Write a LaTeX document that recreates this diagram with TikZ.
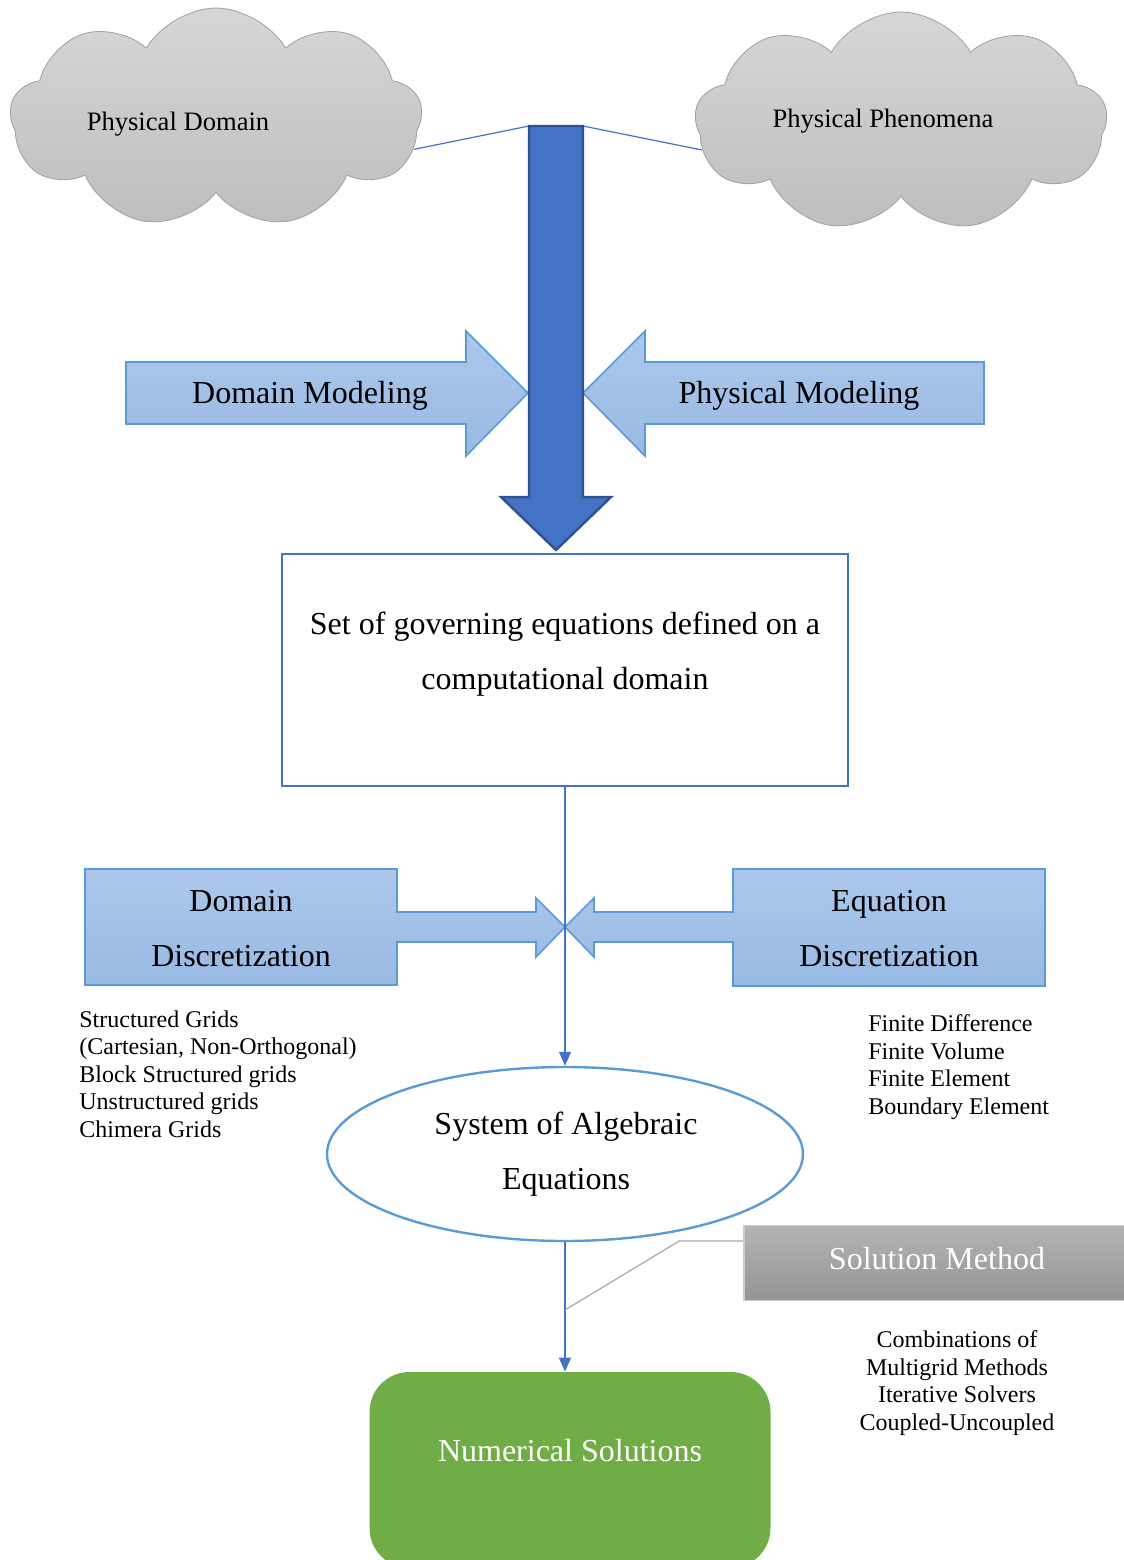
\documentclass[tikz,border=0pt]{standalone}
\usepackage{fontspec}
\setmainfont{Liberation Serif}
\usetikzlibrary{shapes.symbols,shapes.geometric,arrows.meta}

\definecolor{blueT}{RGB}{172,199,234}
\definecolor{blueB}{RGB}{153,186,228}
\definecolor{blueedge}{RGB}{91,155,213}
\definecolor{darkblue}{RGB}{68,114,196}
\definecolor{navyedge}{RGB}{47,82,143}
\definecolor{cloudT}{RGB}{214,214,214}
\definecolor{cloudB}{RGB}{190,190,190}
\definecolor{cloudedge}{RGB}{160,160,160}
\definecolor{grayT}{RGB}{180,180,180}
\definecolor{grayB}{RGB}{148,148,148}
\definecolor{leafgreen}{RGB}{112,173,71}

\begin{document}
\begin{tikzpicture}[x=0.5pt,y=-0.5pt]

\tikzstyle{cloudy}=[cloud, cloud puffs=9, cloud puff arc=120, aspect=1.9, draw=cloudedge, top color=cloudT, bottom color=cloudB, minimum width=206pt, minimum height=110pt, inner sep=0pt]
\tikzstyle{blockarrow}=[draw=blueedge, line width=0.8pt, top color=blueT, bottom color=blueB]
\tikzstyle{bigtext}=[inner sep=0pt, align=center, font=\fontsize{16pt}{27.5pt}\selectfont]
\tikzstyle{smalltext}=[inner sep=0pt, font=\fontsize{12pt}{13.75pt}\selectfont]
\tikzstyle{arrow}=[draw=darkblue, line width=0.6pt, -{Triangle[width=6pt,length=7pt]}]
\tikzstyle{thinline}=[draw=darkblue, line width=0.6pt]

\useasboundingbox (0,0) rectangle (1124,1560);
\clip (0,0) rectangle (1124,1560);

% clouds
\node (PD) [cloudy] at (216,118) {};
\node (PP) [cloudy] at (901,122) {};
\node (PDt) [inner sep=0pt, font=\fontsize{13.3pt}{16pt}\selectfont] at (178,124) {Physical Domain};
\node (PPt) [inner sep=0pt, font=\fontsize{13.3pt}{16pt}\selectfont] at (883,121) {Physical Phenomena};

\coordinate (TL) at (529,126);
\coordinate (TR) at (583,126);
\draw [thinline] (PD.-9) -- (TL);
\draw [thinline] (TR) -- (PP.188);

% modeling arrows
\draw [blockarrow] (126,362) -- (466,362) -- (466,331) -- (528,393) -- (466,456) -- (466,424) -- (126,424) -- cycle;
\draw [blockarrow] (984,362) -- (645,362) -- (645,331) -- (583,393) -- (645,456) -- (645,424) -- (984,424) -- cycle;
\node (DM) [bigtext] at (310,396) {Domain Modeling};
\node (PM) [bigtext] at (799,396) {Physical Modeling};

% big arrow
\draw [fill=darkblue, draw=navyedge, line width=1.2pt] (TL) -- (TR) -- (583,497) -- (611,497) -- (556,550) -- (501,497) -- (529,497) -- cycle;

% governing equations
\node (GE) [rectangle, draw=darkblue, line width=1pt, fill=white, minimum width=283pt, minimum height=116pt] at (565,670) {};
\node (GEt) [bigtext] at (565,654) {Set of governing equations defined on a\\ computational domain};

% discretization callouts
\draw [blockarrow] (85,869) -- (397,869) -- (397,912) -- (536,912) -- (536,898) -- (565,927) -- (536,957) -- (536,942) -- (397,942) -- (397,985) -- (85,985) -- cycle;
\draw [blockarrow] (1045,869) -- (733,869) -- (733,912) -- (594,912) -- (594,898) -- (565,927) -- (594,957) -- (594,942) -- (733,942) -- (733,986) -- (1045,986) -- cycle;
\node (DD) [bigtext] at (241,929) {Domain\\ Discretization};
\node (ED) [bigtext] at (889,929) {Equation\\ Discretization};

% algebraic system
\node (SA) [ellipse, draw=blueedge, line width=1.2pt, fill=white, minimum width=238pt, minimum height=87pt] at (565,1154) {};
\node (SAt) [bigtext] at (566,1154) {System of Algebraic\\ Equations};

\node (L1) [smalltext, anchor=west, align=left] at (79,1074) {Structured Grids\\ (Cartesian, Non-Orthogonal)\\ Block Structured grids\\ Unstructured grids\\ Chimera Grids};
\node (L2) [smalltext, anchor=west, align=left] at (868,1067) {Finite Difference\\ Finite Volume\\ Finite Element\\ Boundary Element};

% solution
\node (SM) [rectangle, draw={rgb,255:red,205;green,205;blue,205}, line width=0.8pt, top color=grayT, bottom color=grayB, minimum width=195pt, minimum height=37.5pt] at (939,1263) {};
\node (SMt) [inner sep=0pt, text=white, font=\fontsize{16pt}{18pt}\selectfont] at (937,1259) {Solution Method};
\node (L3) [smalltext, align=center] at (957,1383) {Combinations of\\ Multigrid Methods\\ Iterative Solvers\\ Coupled-Uncoupled};

\node (NS) [rectangle, rounded corners=20pt, fill=leafgreen, minimum width=200.5pt, minimum height=98pt] at (570,1470) {};
\node (NSt) [bigtext, text=white] at (570,1451) {Numerical Solutions};

\draw [arrow] (GE) -- (SA);
\draw [arrow] (SA) -- (SA |- NS.north);

\coordinate (K) at (565,1310);
\draw [draw={rgb,255:red,166;green,166;blue,166}, line width=0.6pt] ([yshift=11pt]SM.west) -- ++(-64,0) -- (K);

\end{tikzpicture}
\end{document}
